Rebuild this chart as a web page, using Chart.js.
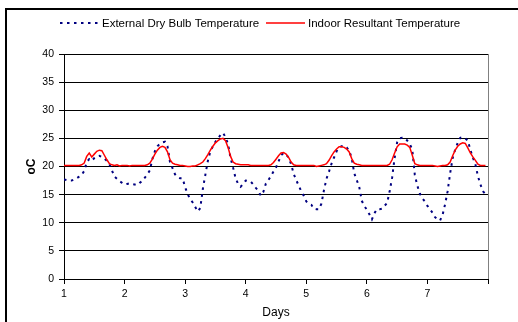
<!DOCTYPE html>
<html>
<head>
<meta charset="utf-8">
<script src="https://cdn.jsdelivr.net/npm/chart.js@4"></script>
<style>
  html, body { margin: 0; padding: 0; background: #fff; }
  #wrap { width: 518px; height: 322px; }
</style>
</head>
<body>
<div id="wrap"><canvas id="chartCanvas" width="518" height="322"></canvas></div>
<script>
// hourly values over 7 days (hour 0 = start of day 1)
const extTemp = [
  17.7, 17.6, 17.5, 17.5, 17.7, 17.9, 18.2, 18.5, 19.2, 20.8, 21.3, 21.0, 21.5, 21.8, 21.9, 21.7, 21.4, 21.0, 20.4, 19.3, 18.2, 17.8, 17.4, 17.1,
  16.8, 16.9, 17.0, 16.9, 16.8, 16.7, 17.1, 17.4, 18.0, 18.6, 19.3, 21.3, 22.7, 23.6, 24.0, 24.3, 24.4, 23.6, 20.8, 19.7, 18.6, 18.1, 17.9, 17.9,
  16.3, 15.1, 14.2, 13.6, 12.8, 12.0, 12.6, 16.0, 18.5, 21.0, 22.7, 23.6, 24.4, 25.0, 25.6, 26.0, 25.2, 24.0, 21.5, 19.8, 17.9, 16.9, 16.4, 16.9,
  17.5, 17.4, 17.3, 16.8, 16.2, 15.7, 14.8, 15.5, 17.0, 17.6, 18.3, 19.1, 19.8, 20.9, 22.0, 22.4, 22.2, 21.5, 20.4, 18.7, 17.6, 16.6, 15.6, 14.8,
  13.8, 13.4, 13.2, 12.5, 12.4, 12.4, 13.4, 15.8, 17.8, 19.1, 20.5, 21.6, 22.7, 23.4, 23.6, 23.7, 23.4, 22.8, 21.5, 18.8, 17.6, 16.3, 13.9, 13.0,
  12.3, 11.5, 10.6, 11.7, 12.4, 12.4, 12.5, 13.0, 13.5, 15.5, 18.0, 21.5, 24.3, 25.0, 25.1, 25.1, 24.6, 24.0, 23.0, 18.5, 16.6, 15.2, 14.3, 13.8,
  13.0, 12.4, 11.8, 11.0, 10.6, 10.4, 11.4, 13.3, 15.6, 18.8, 21.5, 23.0, 24.2, 25.1, 25.2, 25.0, 24.6, 23.0, 21.6, 20.4, 18.3, 16.8, 15.6, 15.1
];
const indoorTemp = [
  20.2, 20.2, 20.2, 20.2, 20.2, 20.2, 20.2, 20.3, 20.6, 21.8, 22.4, 21.7, 22.2, 22.7, 22.9, 22.8, 22.0, 21.2, 20.5, 20.3, 20.2, 20.3, 20.1, 20.2,
  20.2, 20.2, 20.1, 20.2, 20.2, 20.2, 20.2, 20.2, 20.2, 20.3, 20.6, 21.3, 22.2, 22.9, 23.4, 23.6, 23.4, 22.6, 21.2, 20.6, 20.4, 20.3, 20.2, 20.2,
  20.1, 20.0, 20.0, 20.1, 20.1, 20.3, 20.5, 20.8, 21.4, 22.1, 22.9, 23.6, 24.2, 24.6, 24.9, 25.0, 24.6, 23.4, 21.8, 20.8, 20.5, 20.4, 20.3, 20.3,
  20.3, 20.3, 20.2, 20.2, 20.2, 20.2, 20.2, 20.2, 20.2, 20.2, 20.3, 20.7, 21.3, 21.9, 22.4, 22.5, 22.2, 21.6, 20.8, 20.3, 20.2, 20.2, 20.2, 20.2,
  20.2, 20.2, 20.2, 20.2, 20.0, 20.1, 20.2, 20.3, 20.5, 21.1, 21.9, 22.6, 23.1, 23.5, 23.5, 23.4, 23.1, 22.6, 21.4, 20.6, 20.4, 20.3, 20.2, 20.2,
  20.2, 20.2, 20.2, 20.2, 20.2, 20.2, 20.2, 20.2, 20.2, 20.4, 21.2, 22.4, 23.5, 24.0, 24.0, 24.0, 23.8, 23.4, 22.0, 20.5, 20.3, 20.2, 20.2, 20.2,
  20.2, 20.2, 20.2, 20.1, 20.0, 20.1, 20.2, 20.2, 20.3, 20.8, 21.9, 22.9, 23.6, 24.0, 24.2, 24.1, 23.3, 22.4, 21.7, 21.1, 20.4, 20.2, 20.2, 20.2
];
const dayLabels = ['1', '2', '3', '4', '5', '6', '7', ''];
const seriesNames = ['External Dry Bulb Temperature', 'Indoor Resultant Temperature'];

const FONT = '"Liberation Sans", Arial, sans-serif';
const EXT_COLOR = '#000080';
const IN_COLOR = '#ff0000';

// outer frame, plot border and legend
const framePlugin = {
    id: 'frame',
    beforeDraw(c) {
        const ctx = c.ctx;
        ctx.save();
        ctx.fillStyle = '#fff';
        ctx.fillRect(0, 0, c.width, c.height);
        ctx.strokeStyle = '#000';
        ctx.lineWidth = 2;
        ctx.beginPath();
        ctx.moveTo(6, 340);
        ctx.lineTo(6, 9);
        ctx.lineTo(540, 9);
        ctx.stroke();
        const a = c.chartArea;
        ctx.strokeStyle = '#808080';
        ctx.lineWidth = 1;
        ctx.beginPath();
        ctx.moveTo(Math.round(a.right) + 0.5, a.top);
        ctx.lineTo(Math.round(a.right) + 0.5, a.bottom);
        ctx.stroke();
        ctx.restore();
    },
    afterDraw(c) {
        const ctx = c.ctx;
        const y = 23;
        ctx.save();
        ctx.font = '11.5px ' + FONT;
        ctx.fillStyle = '#000';
        ctx.textBaseline = 'middle';

        ctx.beginPath();
        ctx.strokeStyle = EXT_COLOR;
        ctx.lineWidth = 2;
        ctx.setLineDash([2.5, 4.5]);
        ctx.moveTo(60, y);
        ctx.lineTo(100, y);
        ctx.stroke();
        ctx.fillText(seriesNames[0], 102, y + 0.5);

        ctx.beginPath();
        ctx.setLineDash([]);
        ctx.strokeStyle = IN_COLOR;
        ctx.lineWidth = 1.5;
        ctx.moveTo(266, y);
        ctx.lineTo(305, y);
        ctx.stroke();
        ctx.fillText(seriesNames[1], 308, y + 0.5);
        ctx.restore();
    }
};

const ctx = document.getElementById('chartCanvas').getContext('2d');
const chart = new Chart(ctx, {
    type: 'line',
    data: {
        datasets: [{
            label: seriesNames[0],
            data: extTemp.map((v, i) => ({ x: i, y: v })),
            borderColor: EXT_COLOR,
            borderWidth: 2,
            borderDash: [2.5, 4.5],
            pointRadius: 0,
            fill: false,
            order: 1
        }, {
            label: seriesNames[1],
            data: indoorTemp.map((v, i) => ({ x: i, y: v })),
            borderColor: IN_COLOR,
            borderWidth: 1.5,
            pointRadius: 0,
            fill: false,
            order: 0
        }]
    },
    options: {
        responsive: false,
        animation: false,
        layout: { padding: { left: 0, right: 30, top: 54, bottom: 0 } },
        plugins: {
            legend: { display: false },
            tooltip: { enabled: false }
        },
        scales: {
            x: {
                type: 'linear',
                min: 0,
                max: 168,
                afterFit: s => { s.height = 43; },
                afterBuildTicks: s => { s.ticks = dayLabels.map((d, i) => ({ value: i * 24 })); },
                ticks: {
                    autoSkip: false,
                    maxRotation: 0,
                    padding: 4,
                    color: '#000',
                    font: { family: FONT, size: 10.5 },
                    callback: v => dayLabels[v / 24]
                },
                grid: { drawOnChartArea: false, tickLength: 5, color: '#000' },
                border: { color: '#000', width: 1 },
                title: {
                    display: true,
                    text: 'Days',
                    color: '#000',
                    font: { family: FONT, size: 12 },
                    padding: { top: 0, bottom: 2 }
                }
            },
            y: {
                min: 0,
                max: 40,
                afterFit: s => { s.width = 64; },
                ticks: {
                    stepSize: 5,
                    padding: 5,
                    color: '#000',
                    font: { family: FONT, size: 10.5 }
                },
                grid: { color: '#000', tickLength: 5, lineWidth: 1 },
                border: { color: '#000', width: 1 },
                title: {
                    display: true,
                    text: 'oC',
                    color: '#000',
                    font: { family: FONT, size: 12, weight: 'bold' },
                    padding: { top: 24, bottom: 0 }
                }
            }
        }
    },
    plugins: [framePlugin]
});
</script>
</body>
</html>
